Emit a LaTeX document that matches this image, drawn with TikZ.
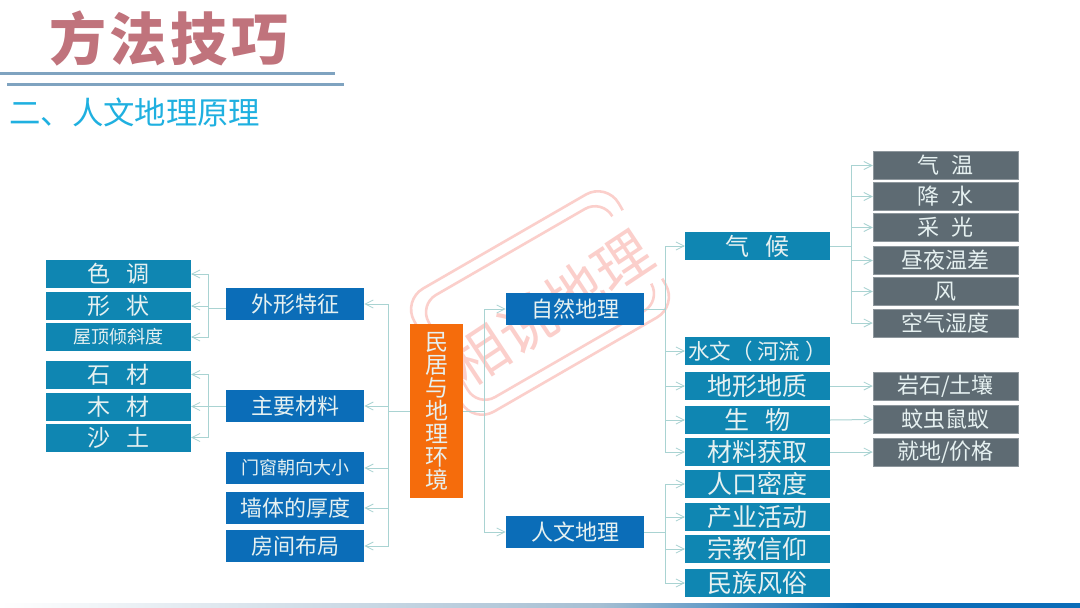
\documentclass[tikz,border=0pt]{standalone}
\usepackage{fontspec}
\setmainfont{Noto Sans CJK SC}
\usetikzlibrary{arrows.meta}
\definecolor{tealbox}{HTML}{0F86B2}
\definecolor{bluebox}{HTML}{0B6DB8}
\definecolor{orangebox}{HTML}{F56C0C}
\definecolor{graybox}{HTML}{5E6B73}
\definecolor{boxtext}{HTML}{E6F1F1}
\definecolor{connc}{HTML}{A9D3D2}
\definecolor{titlec}{HTML}{C0737C}
\definecolor{rulec}{HTML}{7FA3C0}
\definecolor{subc}{HTML}{1FB0E0}
\definecolor{markc}{HTML}{FBCFCB}
\newcommand{\fs}[1]{\fontsize{#1}{#1}\selectfont}
\tikzset{
  base/.style={rectangle,inner sep=0pt,text=boxtext,minimum width=145pt,minimum height=28pt},
  tealnode/.style={base,fill=tealbox},
  bluenode/.style={base,fill=bluebox,minimum width=138.5pt,minimum height=32pt},
  graynode/.style={base,fill=graybox,draw=graybox!70!white,line width=.5pt},
  orangenode/.style={rectangle,inner sep=0pt,fill=orangebox,text=boxtext,minimum width=53pt,minimum height=174pt,align=center,font=\fontsize{23}{23}\selectfont},
  conn/.style={draw=connc,line width=1pt},
  arr/.style={conn,-{Straight Barb[length=8pt,width=8pt,line width=.8pt]}},
  wm/.style={draw=markc,line width=2.6pt,rounded corners=24pt}
}
\begin{document}
\begin{tikzpicture}[x=1pt,y=-1pt]
\useasboundingbox (0,0) rectangle (1080,608);
\fill[white] (0,0) rectangle (1080,608);
% bottom strip
\shade[left color=white,right color=rulec!70!white] (0,603) rectangle (600,608);
\shade[left color=rulec!70!white,right color=bluebox] (600,603) rectangle (860,608);
\fill[bluebox] (860,603) rectangle (1080,608);
% watermark
\begin{scope}[shift={(540,303)},rotate=30]
  \draw[wm] (118,-39) -- (118,-71) -- (-118,-71) -- (-118,71) -- (118,71) -- (118,40);
  \draw[wm,rounded corners=20pt] (106,-39) -- (106,-59) -- (-106,-59) -- (-106,59) -- (106,59) -- (106,40);
\end{scope}
\node[text=markc,rotate=33.5,inner sep=0pt] (mark) at (551,308) {\fs{57}相说地理};
% title
\node[text=titlec,inner sep=0pt] (title) at (169,38) {\fs{57}\bfseries 方\hspace{4pt}法\hspace{4pt}技\hspace{4pt}巧};
\coordinate (r1a) at (0,73); \coordinate (r1b) at (335,73);
\coordinate (r2a) at (7,84); \coordinate (r2b) at (344,84);
\draw[rulec,line width=3pt] (r1a) -- (r1b);
\draw[rulec,line width=3pt] (r2a) -- (r2b);
\node[text=subc,inner sep=0pt,anchor=west] (sub) at (9,112) {\fs{31.4}二、人文地理原理};
% left leaves
\node[tealnode] (a1) at (118.5,274) {\fs{23}色\hspace{17pt}调};
\node[tealnode] (a2) at (118.5,306) {\fs{23}形\hspace{17pt}状};
\node[tealnode] (a3) at (118.5,337) {\fs{18}屋顶倾斜度};
\node[tealnode] (a4) at (118.5,374.5) {\fs{23}石\hspace{17pt}材};
\node[tealnode] (a5) at (118.5,406.5) {\fs{23}木\hspace{17pt}材};
\node[tealnode] (a6) at (118.5,437.5) {\fs{23}沙\hspace{17pt}土};
% left branches
\node[bluenode] (b1) at (295,304) {\fs{22}外形特征};
\node[bluenode] (b2) at (295,406) {\fs{22}主要材料};
\node[bluenode] (b3) at (295,468) {\fs{18}门窗朝向大小};
\node[bluenode] (b4) at (295,508) {\fs{22}墙体的厚度};
\node[bluenode] (b5) at (295,546) {\fs{22}房间布局};
% centre
\node[orangenode] (root) at (436.5,411) {民\\居\\与\\地\\理\\环\\境};
\node[bluenode] (n1) at (575,309) {\fs{22}自然地理};
\node[bluenode] (n2) at (575,532) {\fs{22}人文地理};
% right teal
\node[tealnode] (c1) at (757.5,246) {\fs{24}气\hspace{17pt}候};
\node[tealnode] (c2) at (757.5,351) {\fs{21.5}水文（ 河流 ）};
\node[tealnode] (c3) at (757.5,386) {\fs{25}地形地质};
\node[tealnode] (c4) at (757.5,420) {\fs{25}生\hspace{16pt}物};
\node[tealnode] (c5) at (757.5,452) {\fs{25}材料获取};
\node[tealnode] (d1) at (757.5,484) {\fs{25}人口密度};
\node[tealnode] (d2) at (757.5,517) {\fs{25}产业活动};
\node[tealnode] (d3) at (757.5,549) {\fs{25}宗教信仰};
\node[tealnode] (d4) at (757.5,583) {\fs{25}民族风俗};
% gray
\node[graynode] (g1) at (945.5,165.5) {\fs{22}气\hspace{13pt}温};
\node[graynode] (g2) at (945.5,196.5) {\fs{22}降\hspace{13pt}水};
\node[graynode] (g3) at (945.5,227.5) {\fs{22}采\hspace{13pt}光};
\node[graynode] (g4) at (945.5,260.5) {\fs{22}昼夜温差};
\node[graynode] (g5) at (945.5,291.5) {\fs{22}风};
\node[graynode] (g6) at (945.5,323) {\fs{22}空气湿度};
\node[graynode] (h1) at (945.5,386) {\fs{22}岩石/土壤};
\node[graynode] (h2) at (945.5,419.5) {\fs{22}蚊虫鼠蚁};
\node[graynode] (h3) at (945.5,452) {\fs{22}就地/价格};
% buses
\coordinate (busA) at (208,0);
\coordinate (busB) at (388,0);
\coordinate (busC) at (484,0);
\coordinate (busD) at (665,0);
\coordinate (busE) at (851,0);
\coordinate (b1s) at (225.5,308);
\foreach \k in {a1,a2,a3} \draw[arr] (b1s) -- (b1s -| busA) |- (\k.east);
\foreach \k in {a4,a5,a6} \draw[arr] (b2.west) -- (b2.west -| busA) |- (\k.east);
\foreach \k in {b1,b2,b3,b4,b5} \draw[arr] (root.west) -- (root.west -| busB) |- (\k.east);
\foreach \k in {n1,n2} \draw[arr] (root.east) -- (root.east -| busC) |- (\k.west);
\foreach \k in {c1,c2,c3,c4,c5} \draw[arr] (n1.east) -- (n1.east -| busD) |- (\k.west);
\foreach \k in {d1,d2,d3,d4} \draw[arr] (n2.east) -- (n2.east -| busD) |- (\k.west);
\foreach \k in {g1,g2,g3,g4,g5,g6} \draw[arr] (c1.east) -- (c1.east -| busE) |- (\k.west);
\draw[arr] (c3.east) -- (h1.west);
\draw[arr] (c4.east) -- (h2.west);
\draw[arr] (c5.east) -- (h3.west);
\end{tikzpicture}
\end{document}
